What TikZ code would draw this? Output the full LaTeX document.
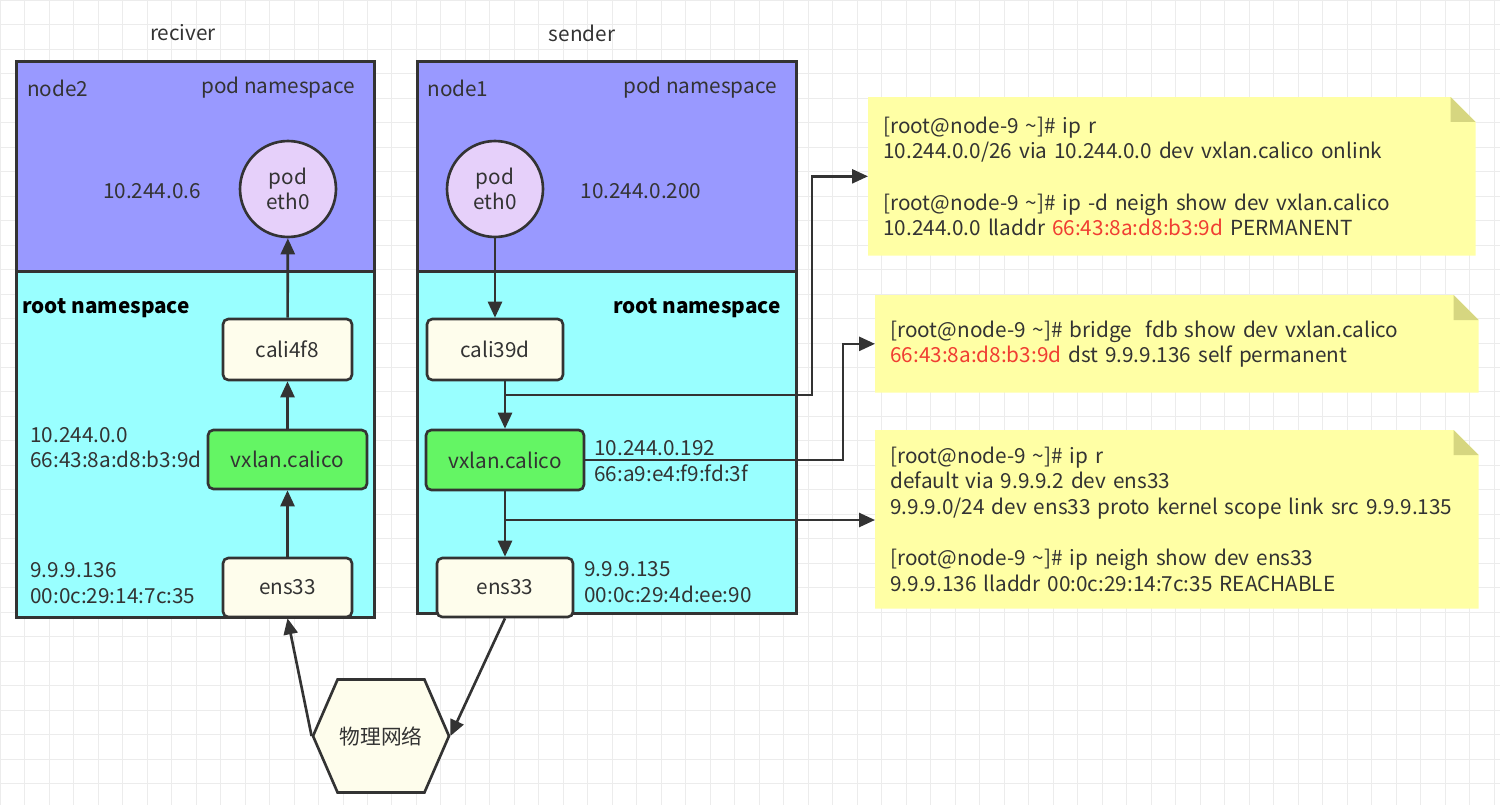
\documentclass[tikz,border=0pt]{standalone}
\usepackage{fontspec}
\setmainfont{Noto Sans CJK SC}
\newfontfamily\cjk{Noto Sans CJK SC}
\usetikzlibrary{arrows.meta,positioning,shapes.geometric,shapes.symbols,backgrounds}
\definecolor{inkgray}{RGB}{51,51,51}
\definecolor{podpurple}{RGB}{153,153,255}
\definecolor{rootcyan}{RGB}{153,255,255}
\definecolor{vxgreen}{RGB}{100,245,100}
\definecolor{ifcream}{RGB}{254,253,236}
\definecolor{podlilac}{RGB}{230,208,250}
\definecolor{noteyellow}{RGB}{255,255,165}
\definecolor{notefoldc}{RGB}{214,214,128}
\definecolor{macred}{RGB}{240,62,50}
\definecolor{gridgray}{RGB}{236,236,236}
\newcommand{\diagfont}{\fontsize{11.8}{14.6}\selectfont}
\newcommand{\macaddr}[1]{\textcolor{macred}{#1}}
\tikzset{
    podns/.style={rectangle,draw=inkgray,fill=podpurple,line width=1.7pt,anchor=north west},
    rootns/.style={rectangle,draw=inkgray,fill=rootcyan,line width=1.7pt,anchor=north west},
    nslabel/.style={inner sep=0pt,text=inkgray,align=left},
    nsbold/.style={inner sep=0pt,text=black,font=\diagfont\bfseries},
    podif/.style={circle,draw=inkgray,fill=podlilac,line width=1.5pt,minimum size=1.92cm,align=center,inner sep=0pt},
    ifbox/.style={rectangle,rounded corners=3pt,draw=inkgray,fill=ifcream,line width=1.5pt,align=center},
    vxbox/.style={ifbox,fill=vxgreen},
    hexnet/.style={signal,signal to=west and east,signal pointer angle=133,draw=inkgray,fill=ifcream,line width=1.5pt,minimum width=2.72cm,minimum height=2.26cm,inner sep=0pt},
    notebox/.style={rectangle,anchor=north west,align=left,inner xsep=0.3cm,text=inkgray},
    notefill/.style={fill=noteyellow},
    notefold/.style={fill=notefoldc},
    netline/.style={-{Triangle[length=3.2mm,width=2.8mm]},line width=1.5pt,draw=inkgray},
    gridline/.style={draw=gridgray,line width=0.5pt}
}
\begin{document}
\begin{tikzpicture}[x=0.02cm,y=-0.02cm,font=\diagfont,text=inkgray]
\useasboundingbox (0,0) rectangle (1500,805);
\begin{scope}[on background layer]
\draw[gridline,step=0.49cm] (0,0) grid (1500,805);
\end{scope}
\node[podns,minimum width=7.16cm,minimum height=4.2cm] (recvpod) at (15,60) {};
\node[rootns,minimum width=7.16cm,minimum height=6.92cm] (recvroot) at (15,270) {};
\node[podns,minimum width=7.58cm,minimum height=4.2cm] (sendpod) at (416,60) {};
\node[rootns,minimum width=7.58cm,minimum height=6.84cm] (sendroot) at (416,270) {};
\node (recvtitle) at (183,33) {reciver};
\node (sendtitle) at (582,33) {sender};
\node[nslabel,anchor=west] (recvname) at (27,88) {node2};
\node[nslabel,anchor=east] (recvpodlbl) at (355,88) {pod namespace};
\node[nslabel,anchor=west] (sendname) at (427,88) {node1};
\node[nslabel,anchor=east] (sendpodlbl) at (777,88) {pod namespace};
\node[nsbold,anchor=west] (recvrootlbl) at (22,308) {root namespace};
\node[nsbold,anchor=east] (sendrootlbl) at (781,308) {root namespace};
\node[podif] (recveth0) at (288,189) {pod\\eth0};
\node[podif] (sendeth0) at (495,189) {pod\\eth0};
\node[nslabel] (recvip) at (152,191) {10.244.0.6};
\node[nslabel] (sendip) at (641,191) {10.244.0.200};
\node[ifbox,minimum width=2.58cm,minimum height=1.22cm] (cali4f8) at (287.5,349.5) {cali4f8};
\node[vxbox,minimum width=3.18cm,minimum height=1.18cm] (recvvx) at (287.5,459.5) {vxlan.calico};
\node[ifbox,minimum width=2.58cm,minimum height=1.18cm] (recvens) at (287.5,587.5) {ens33};
\node[ifbox,minimum width=2.72cm,minimum height=1.22cm] (cali39d) at (495,349.5) {cali39d};
\node[vxbox,minimum width=3.16cm,minimum height=1.2cm] (sendvx) at (505,460) {vxlan.calico};
\node[ifbox,minimum width=2.72cm,minimum height=1.18cm] (sendens) at (505,587.5) {ens33};
\node[nslabel,anchor=west] (recvvxaddr) at (30,447.5) {10.244.0.0\\66:43:8a:d8:b3:9d};
\node[nslabel,anchor=west] (recvensaddr) at (30,583) {9.9.9.136\\00:0c:29:14:7c:35};
\node[nslabel,anchor=west] (sendvxaddr) at (594,461) {10.244.0.192\\66:a9:e4:f9:fd:3f};
\node[nslabel,anchor=west] (sendensaddr) at (584,582) {9.9.9.135\\00:0c:29:4d:ee:90};
\node[hexnet] (phynet) at (381,736) {\cjk 物理网络};
\node[notebox,minimum width=12.14cm,minimum height=3.16cm,text width=11.54cm] (notea) at (868,97)
    {[root@node-9 \textasciitilde]\# ip r\\10.244.0.0/26 via 10.244.0.0 dev vxlan.calico onlink\\[14.6pt]
     [root@node-9 \textasciitilde]\# ip -d neigh show dev vxlan.calico\\10.244.0.0 lladdr \macaddr{66:43:8a:d8:b3:9d} PERMANENT};
\node[notebox,minimum width=12.06cm,minimum height=1.94cm,text width=11.46cm] (noteb) at (875,295)
    {[root@node-9 \textasciitilde]\# bridge\ \ fdb show dev vxlan.calico\\\macaddr{66:43:8a:d8:b3:9d} dst 9.9.9.136 self permanent};
\node[notebox,minimum width=12.06cm,minimum height=3.56cm,text width=11.46cm] (notec) at (875,430)
    {[root@node-9 \textasciitilde]\# ip r\\default via 9.9.9.2 dev ens33\\\mbox{9.9.9.0/24 dev ens33 proto kernel scope link src 9.9.9.135}\\[14.6pt]
     [root@node-9 \textasciitilde]\# ip neigh show dev ens33\\9.9.9.136 lladdr 00:0c:29:14:7c:35 REACHABLE};
\begin{scope}[on background layer]
\foreach \n in {notea,noteb,notec} {
    \fill[notefill] (\n.north west) -- ([xshift=-0.5cm]\n.north east) -- ([yshift=-0.5cm]\n.north east) -- (\n.south east) -- (\n.south west) -- cycle;
    \fill[notefold] ([xshift=-0.5cm]\n.north east) -- ([yshift=-0.5cm]\n.north east) -- ([xshift=-0.5cm,yshift=-0.5cm]\n.north east) -- cycle;
}
\end{scope}
\coordinate (tapa) at (505,395);
\coordinate (tapb) at (505,520);
\draw[netline] (recvens) -- (recvvx);
\draw[netline] (recvvx) -- (cali4f8);
\draw[netline] (cali4f8) -- (recveth0);
\draw[netline] (sendeth0) -- (cali39d);
\draw[netline] (cali39d.south -| sendvx) -- (sendvx);
\draw[netline] (sendvx) -- (sendens);
\draw[netline] (tapa) -| ([xshift=-1.12cm]notea.west) -- (notea.west);
\draw[netline] (sendvx.east) -| ([xshift=-0.64cm]noteb.west) -- (noteb.west);
\draw[netline] (tapb) -- (tapb -| notec.west);
\draw[netline] (phynet.west) -- (recvens.south);
\draw[netline] (sendens.south) -- (phynet.east);
\end{tikzpicture}
\end{document}
